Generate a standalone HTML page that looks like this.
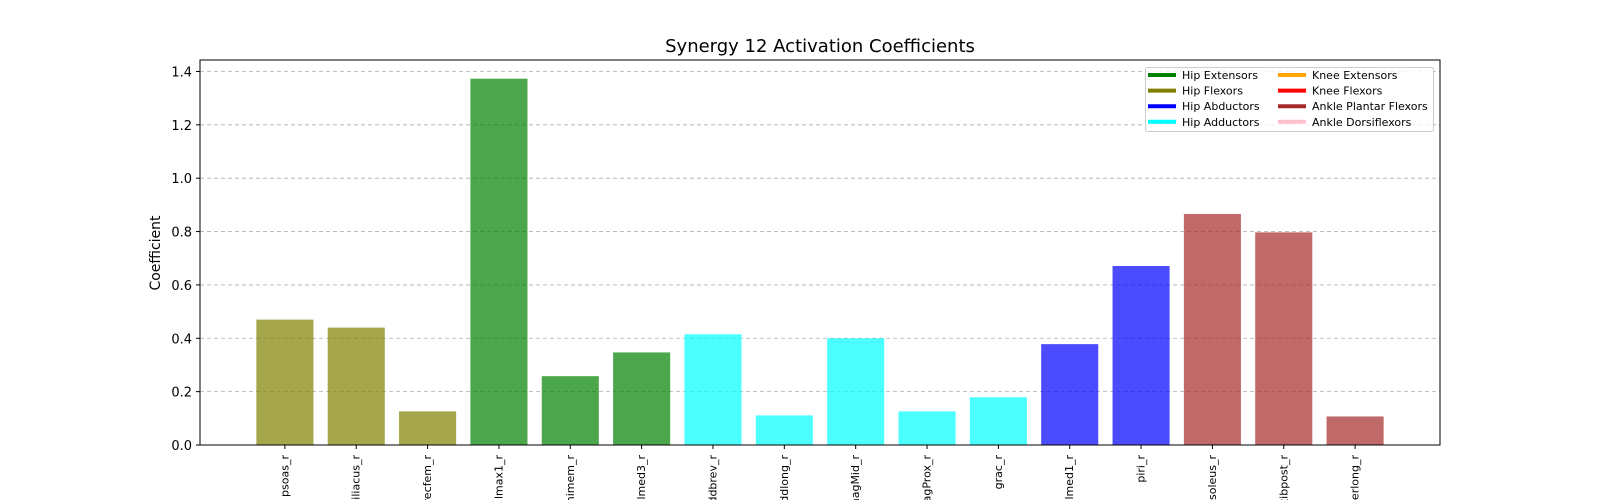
<!DOCTYPE html>
<html><head><meta charset="utf-8"><style>
html,body{margin:0;background:#fff;width:1600px;height:500px;overflow:hidden;}
svg{display:block;overflow:hidden;}
svg text{font-family:"DejaVu Sans","Liberation Sans",sans-serif;}
</style></head><body>
<svg id="chart" width="1600" height="500" xmlns="http://www.w3.org/2000/svg">
<text x="820" y="52" font-size="18" text-anchor="middle">Synergy 12 Activation Coefficients</text>
<text transform="translate(160,253) rotate(-90)" font-size="14" text-anchor="middle">Coefficient</text>
<g id="grid"></g><g id="bars"></g><g id="xticks"></g><g id="yticks"></g>
<rect x="200" y="60" width="1240" height="385" fill="none" stroke="#000" stroke-width="1"/>
<g>
<rect x="1145.5" y="67.5" width="288" height="64" rx="2" fill="#fff" fill-opacity="0.8" stroke="#ccc"/>
<g id="legend"></g>
</g>
</svg>
<script>
const categories=["psoas_r","iliacus_r","recfem_r","glmax1_r","semimem_r","glmed3_r","addbrev_r","addlong_r","addmagMid_r","addmagProx_r","grac_r","glmed1_r","piri_r","soleus_r","tibpost_r","perlong_r"];
const values=[0.47,0.44,0.126,1.373,0.258,0.347,0.415,0.111,0.40,0.126,0.179,0.378,0.671,0.866,0.797,0.107];
const groups=[1,1,1,0,0,0,3,3,3,3,3,2,2,6,6,6];
const groupNames=["Hip Extensors","Hip Flexors","Hip Abductors","Hip Adductors","Knee Extensors","Knee Flexors","Ankle Plantar Flexors","Ankle Dorsiflexors"];
const groupColors=["green","olive","blue","cyan","orange","red","brown","pink"];
const yTicks=[0,0.2,0.4,0.6,0.8,1.0,1.2,1.4];
const NS="http://www.w3.org/2000/svg";
function mk(t,a,p){const e=document.createElementNS(NS,t);for(const k in a)e.setAttribute(k,a[k]);p.appendChild(e);return e;}
const x0=200,x1=1440,yb=445,yt=60;
const xmin=-1.19,xmax=categories.length-1+1.19;
const ymin=0,ymax=1.443;
function xs(i){return x0+(i-xmin)/(xmax-xmin)*(x1-x0);}
function ys(v){return yb-(v-ymin)/(ymax-ymin)*(yb-yt);}
const step=xs(1)-xs(0),bw=step*0.8;
const grid=document.getElementById('grid'),yt_g=document.getElementById('yticks');
yTicks.forEach(v=>{
 const y=ys(v);
 const g=mk('line',{x1:x0,x2:x1,y1:y,y2:y,stroke:'#b0b0b0','stroke-dasharray':'4,3','stroke-width':0.8},grid);
 
 
 mk('line',{x1:x0-4,x2:x0,y1:y,y2:y,stroke:'#000'},yt_g);
 const t=mk('text',{x:x0-8,y:y+5,'font-size':13,'text-anchor':'end'},yt_g);
 t.textContent=v.toFixed(1);
 
 
});
const bars=document.getElementById('bars'),xt=document.getElementById('xticks');
categories.forEach((c,i)=>{
 const cx=xs(i),y=ys(values[i]);
 const r=mk('rect',{x:cx-bw/2,y:y,width:bw,height:yb-y,fill:groupColors[groups[i]],'fill-opacity':0.7},bars);
 
 
 mk('line',{x1:cx,x2:cx,y1:yb,y2:yb+4,stroke:'#000'},xt);
 const t=mk('text',{transform:`translate(${cx+3.5},455) rotate(-90)`,'font-size':11,'text-anchor':'end'},xt);
 t.textContent=c;
 
 
});
const lg=document.getElementById('legend');
groupNames.forEach((n,k)=>{
 const col=Math.floor(k/4),row=k%4;
 const lx=col?1278:1148,ly=75+row*15.6;
 const g=mk('g',{},lg);
 
 
 mk('line',{x1:lx,x2:lx+28,y1:ly,y2:ly,stroke:groupColors[k],'stroke-width':4},g);
 const t=mk('text',{x:lx+34,y:ly+4,'font-size':11},g);
 t.textContent=n;
});
</script>
</body></html>
